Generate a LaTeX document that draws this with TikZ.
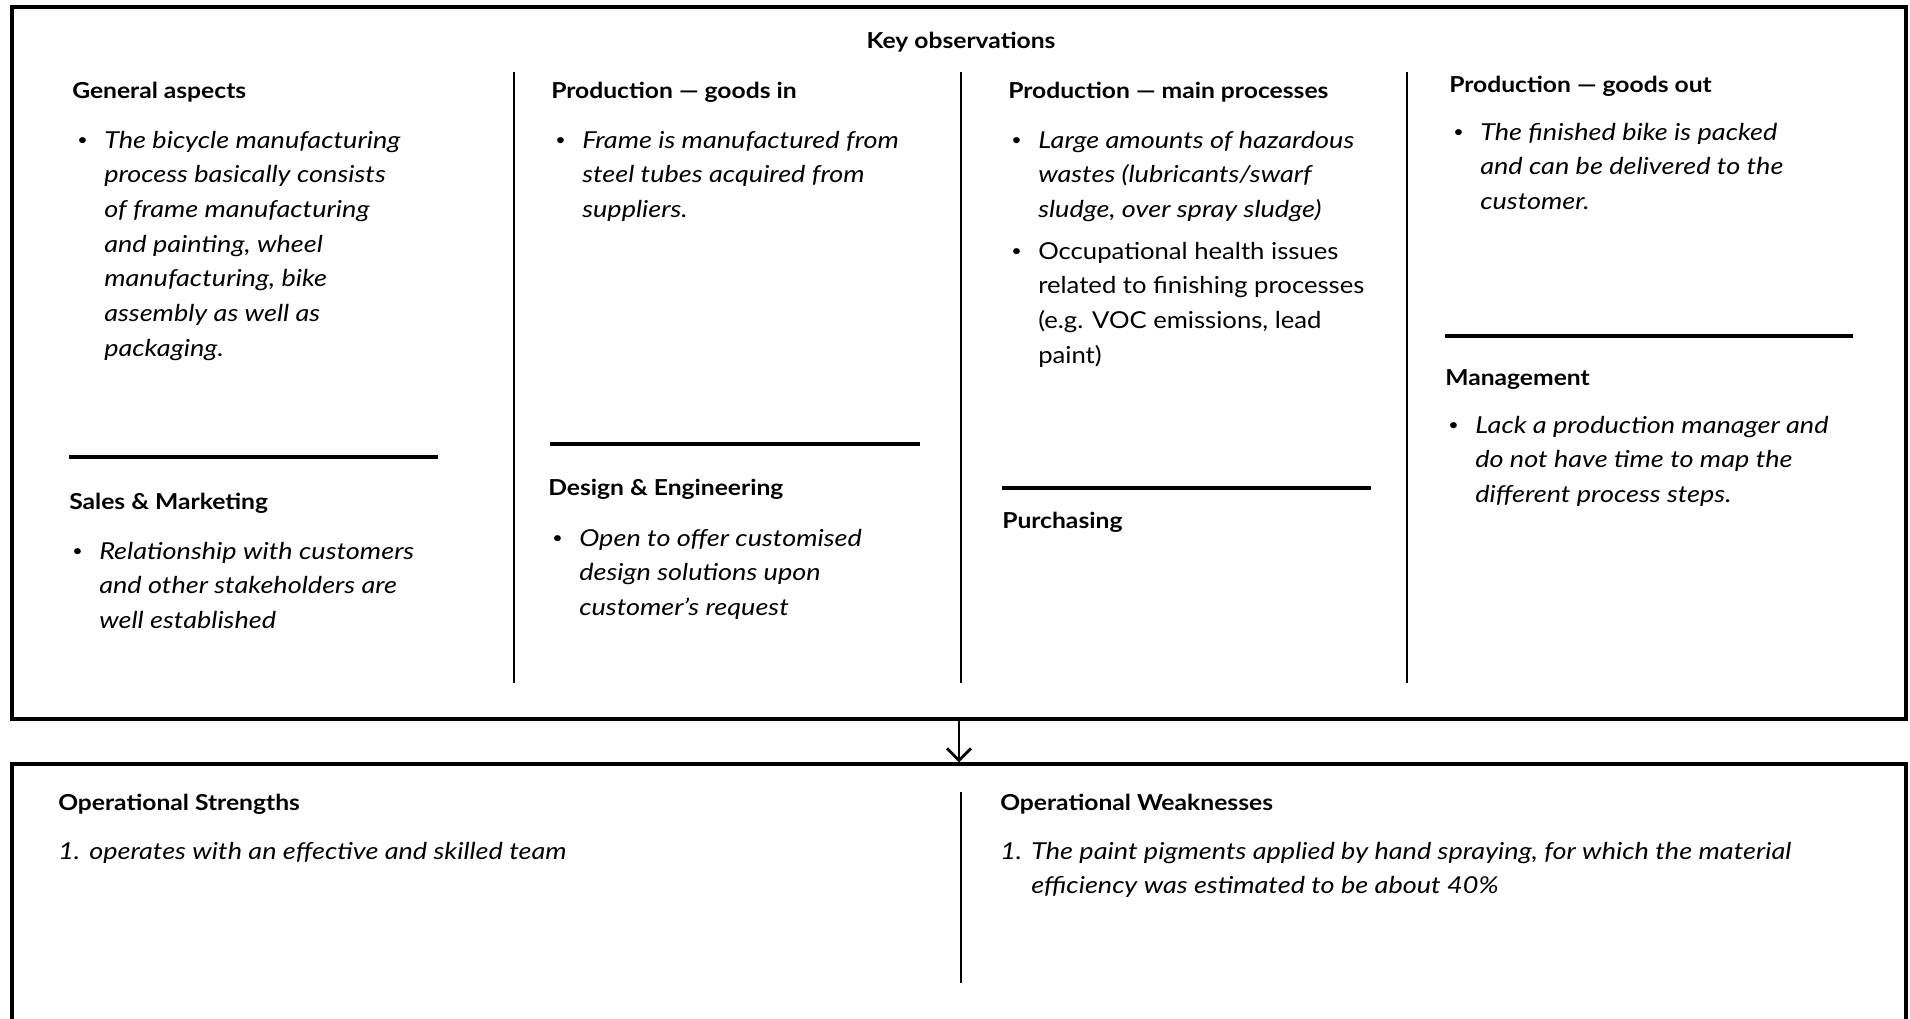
\documentclass[tikz,border=0pt]{standalone}
\usepackage{fontspec}
\setmainfont{Lato}[UprightFeatures={FakeStretch=1.10}, ItalicFeatures={FakeStretch=1.16}, BoldFeatures={FakeStretch=1.12}]
\newfontfamily\headfam{Lato}[FakeStretch=1.12]
\usetikzlibrary{arrows.meta}
\newcommand\bodyfnt{\fontsize{17.5pt}{26pt}\selectfont}
\newcommand\headfnt{\headfam\fontsize{16.5pt}{20pt}\selectfont\bfseries}
\newcommand\bul{\raisebox{0.12em}{\scalebox{0.7}{•}}}
% paragraph with hanging label: #1 = indent, #2 = label, #3 = lines
\newcommand\bpar[3]{\parbox[t]{900pt}{\bodyfnt\raggedright\leftskip=#1\relax\noindent\llap{\makebox[#1][l]{#2}}#3}}
\tikzset{
  head/.style={anchor=base west, inner sep=0pt, font=\headfnt},
  body/.style={anchor=base west, inner sep=0pt},
  frame/.style={draw=black, line width=2.4pt, inner sep=0pt, minimum width=1420.5pt},
  divider/.style={draw=black, line width=2.2pt},
  sep/.style={draw=black, line width=3pt},
  flow/.style={draw=black, line width=2.2pt, -{Straight Barb[length=9pt,width=18pt,line width=2.2pt]}}
}
\begin{document}
\begin{tikzpicture}[x=0.75pt, y=-0.75pt]
\useasboundingbox (0,0) rectangle (1910,1018);
\clip (0,0) rectangle (1910,1018);
\fill[white] (0,0) rectangle (1910,1018);
% frames
\node[frame, minimum height=534pt] (keybox) at (959,363) {};
\node[frame, minimum height=252pt] (opbox) at (959,932) {};
\draw[flow] (keybox.south) -- (opbox.north);
% title
\node[head, anchor=base] (title) at (961,48) {Key observations};
% column dividers
\draw[divider] (514,72) -- (514,683);
\draw[divider] (961,72) -- (961,683);
\draw[divider] (1407,72) -- (1407,683);
% column 1
\node[head] (gen) at (72,98) {General aspects};
\node[body] (genb) at (77,148) {\bpar{20.25pt}{\bul}{\itshape The bicycle manufacturing\\process basically consists\\of frame manufacturing\\and painting, wheel\\manufacturing, bike\\assembly as well as\\packaging.}};
\draw[sep] (69,457) -- (438,457);
\node[head] (sales) at (69,509) {Sales \& Marketing};
\node[body] (salesb) at (72,559) {\bpar{20.25pt}{\bul}{\itshape Relationship with customers\\and other stakeholders are\\well established}};
% column 2
\node[head] (gin) at (551,98) {Production — goods in};
\node[body] (ginb) at (555,148) {\bpar{20.25pt}{\bul}{\itshape Frame is manufactured from\\steel tubes acquired from\\suppliers.}};
\draw[sep] (550,444) -- (920,444);
\node[head] (design) at (548,495) {Design \& Engineering};
\node[body] (designb) at (552,546) {\bpar{20.25pt}{\bul}{\itshape Open to offer customised\\design solutions upon\\customer’s request}};
% column 3
\node[head] (main) at (1008,98) {Production — main processes};
\node[body] (mainb1) at (1011,148) {\bpar{20.25pt}{\bul}{\itshape Large amounts of hazardous\\wastes (lubricants/swarf\\sludge, over spray sludge)}};
\node[body] (mainb2) at (1011,259) {\bpar{20.25pt}{\bul}{Occupational health issues\\related to finishing processes\\(e.g. VOC emissions, lead\\paint)}};
\draw[sep] (1002,488) -- (1371,488);
\node[head] (purch) at (1002,528) {Purchasing};
% column 4
\node[head] (gout) at (1449,92) {Production — goods out};
\node[body] (goutb) at (1453,140) {\bpar{20.25pt}{\bul}{\itshape The finished bike is packed\\and can be delivered to the\\customer.}};
\draw[sep] (1445,336) -- (1853,336);
\node[head] (mgmt) at (1445,385) {Management};
\node[body] (mgmtb) at (1448,433) {\bpar{20.25pt}{\bul}{\itshape Lack a production manager and\\do not have time to map the\\different process steps.}};
% bottom box
\node[head] (str) at (58,810) {Operational Strengths};
\node[body] (strb) at (58,859) {\bpar{23.25pt}{\itshape 1.}{\itshape operates with an effective and skilled team}};
\draw[divider] (961,792) -- (961,983);
\node[head] (weak) at (1000,810) {Operational Weaknesses};
\node[body] (weakb) at (1000,859) {\bpar{23.25pt}{\itshape 1.}{\itshape The paint pigments applied by hand spraying, for which the material\\efficiency was estimated to be about 40\%}};
\end{tikzpicture}
\end{document}
